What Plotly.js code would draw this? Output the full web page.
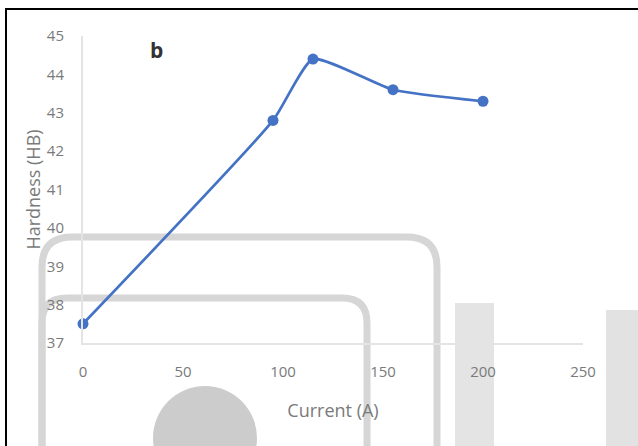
<!DOCTYPE html>
<html>
<head>
<meta charset="utf-8">
<script src="https://cdn.plot.ly/plotly-3.0.1.min.js"></script>
<style>html,body{margin:0;padding:0;background:#fff;}#chart{width:638px;height:446px;}</style>
</head>
<body>
<div id="chart"></div>
<script>
const current = [0, 95, 115, 155, 200];
const hardness = [37.5, 42.8, 44.4, 43.6, 43.3];
const xTicks = [0, 50, 100, 150, 200, 250];
const yTicks = [37, 38, 39, 40, 41, 42, 43, 44, 45];

const W = 638, H = 446;
const M = {l: 83, r: 55, t: 36, b: 103};
const pw = W - M.l - M.r, ph = H - M.t - M.b;
const px = x => (x - M.l) / pw;
const py = y => (H - M.b - y) / ph;

function rrect(x0, y0, x1, y1, r) {
  const X0 = px(x0), X1 = px(x1), Y0 = py(y0), Y1 = py(y1);
  const rx = r / pw, ry = r / ph;
  return `M ${X0},${Y1} L ${X0},${Y0 - ry} Q ${X0},${Y0} ${X0 + rx},${Y0} L ${X1 - rx},${Y0} Q ${X1},${Y0} ${X1},${Y0 - ry} L ${X1},${Y1}`;
}

const shapes = [
  {type: 'path', xref: 'paper', yref: 'paper', layer: 'below', path: rrect(42, 237, 437, 470, 30), line: {color: '#d6d6d6', width: 7}},
  {type: 'path', xref: 'paper', yref: 'paper', layer: 'below', path: rrect(42, 298, 367, 470, 25), line: {color: '#d6d6d6', width: 7}},
  {type: 'circle', xref: 'paper', yref: 'paper', layer: 'below', x0: px(153), x1: px(257), y0: py(386), y1: py(490), fillcolor: '#cccccc', line: {width: 0}},
  {type: 'rect', xref: 'paper', yref: 'paper', layer: 'below', x0: px(455), x1: px(494), y0: py(303), y1: py(460), fillcolor: '#e4e4e4', line: {width: 0}},
  {type: 'rect', xref: 'paper', yref: 'paper', layer: 'below', x0: px(606), x1: px(640), y0: py(310), y1: py(460), fillcolor: '#e2e2e2', line: {width: 0}},
  {type: 'rect', xref: 'paper', yref: 'paper', layer: 'above', x0: px(6), x1: px(640), y0: py(9), y1: py(470), fillcolor: 'rgba(0,0,0,0)', line: {color: '#000', width: 2}}
];

const trace = {
  x: current, y: hardness, type: 'scatter', mode: 'lines+markers',
  line: {color: '#4472C4', width: 2.7, shape: 'spline', smoothing: 0.5},
  marker: {color: '#4472C4', size: 11},
  cliponaxis: false
};

const layout = {
  width: W, height: H,
  margin: M,
  paper_bgcolor: '#fff', plot_bgcolor: 'rgba(0,0,0,0)',
  showlegend: false,
  font: {family: 'Open Sans, sans-serif', color: '#7a7a7a', size: 15},
  xaxis: {
    range: [0, 250], tickvals: xTicks, ticktext: xTicks.map(String),
    showgrid: false, zeroline: false, showline: true, linecolor: '#e4e4e4', linewidth: 2,
    ticks: '', tickfont: {size: 15, color: '#7a7a7a'}, ticklabelstandoff: 14,
    title: {text: 'Current (A)', font: {size: 18, color: '#7a7a7a'}, standoff: 24}
  },
  yaxis: {
    range: [37, 45], tickvals: yTicks, ticktext: yTicks.map(String),
    showgrid: false, zeroline: false, showline: true, linecolor: '#e4e4e4', linewidth: 2,
    ticks: '', tickfont: {size: 15, color: '#7a7a7a'}, ticklabelstandoff: 14,
    title: {text: 'Hardness (HB)', font: {size: 18, color: '#7a7a7a'}, standoff: 2}
  },
  shapes: shapes,
  annotations: [{
    text: '<b>b</b>', xref: 'paper', yref: 'paper', x: px(156), y: py(50),
    xanchor: 'center', yanchor: 'middle', showarrow: false,
    font: {family: 'Open Sans, sans-serif', size: 21, color: '#333'}
  }]
};

Plotly.newPlot('chart', [trace], layout, {displayModeBar: false, staticPlot: true});
</script>
</body>
</html>
